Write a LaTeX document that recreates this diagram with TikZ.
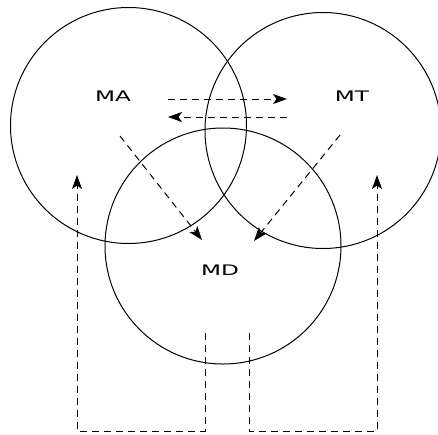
\documentclass[tikz,border=0pt]{standalone}
\usepackage{fontspec}
\setmainfont{DejaVu Sans}
\usetikzlibrary{arrows.meta}

\tikzset{
  set/.style={circle, draw, line width=1pt, minimum size=236pt, inner sep=0pt},
  flow/.style={line width=1pt, dash pattern=on 7pt off 5pt, >={Stealth[length=14pt,width=10pt,inset=3.5pt]}},
  tag/.style={font=\fontsize{14.5}{15}\selectfont, inner sep=0pt}
}
\newcommand{\wide}[1]{\scalebox{1.6}[1]{#1}}

\begin{document}
\begin{tikzpicture}[x=1pt, y=-1pt]
  \useasboundingbox (0,0) rectangle (438,434);
  % the three sets
  \node [set] (A) at (128.5,125.5) {};
  \node [set] (T) at (323,130.5) {};
  \node [set] (D) at (223,246) {};
  \node [tag] (ma) at (113,96) {\wide{MA}};
  \node [tag] (mt) at (352,96) {\wide{MT}};
  \node [tag] (md) at (220,270) {\wide{MD}};
  % ends of the links
  \coordinate (a1) at (168,99);   \coordinate (t1) at (287,99);
  \coordinate (t2) at (287,117);  \coordinate (a2) at (168,117);
  \coordinate (a3) at (120,136);  \coordinate (d1) at (202,240);
  \coordinate (t3) at (340,135);  \coordinate (d2) at (254,241);
  \coordinate (d3) at (205,333);  \coordinate (a4) at (77,175);
  \coordinate (d4) at (249,333);  \coordinate (t4) at (377,175);
  % links between them
  \draw [flow, ->] (a1) -- (t1);
  \draw [flow, ->] (t2) -- (a2);
  \draw [flow, ->] (a3) -- (d1);
  \draw [flow, ->] (t3) -- (d2);
  \draw [flow, ->] (d3) |- (77,431) -- (a4);
  \draw [flow, ->] (d4) |- (377,431) -- (t4);
\end{tikzpicture}
\end{document}
